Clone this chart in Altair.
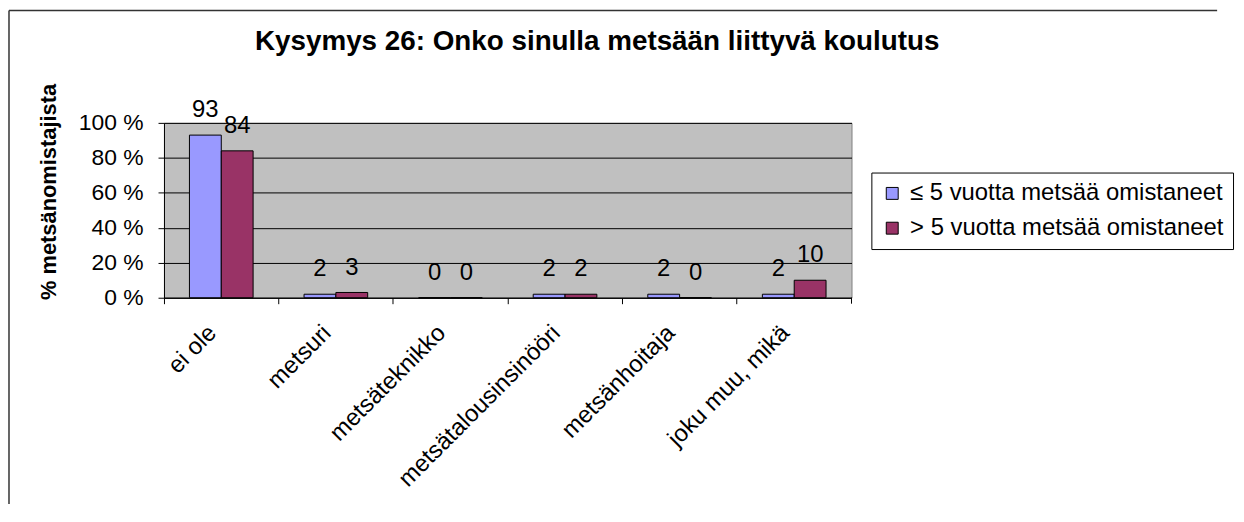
import altair as alt
import pandas as pd

categories = ["ei ole", "metsuri", "metsäteknikko", "metsätalousinsinööri",
              "metsänhoitaja", "joku muu, mikä"]
series_names = ["≤ 5 vuotta metsää omistaneet", "> 5 vuotta metsää omistaneet"]
values_le5 = [93, 2, 0, 2, 2, 2]
values_gt5 = [84, 3, 0, 2, 0, 10]
y_ticks = [0, 20, 40, 60, 80, 100]
colors = ["#9999FF", "#993366"]
title_text = "Kysymys 26: Onko sinulla metsään liittyvä koulutus"
y_title = "% metsänomistajista"

rows = []
for c, v in zip(categories, values_le5):
    rows.append({"cat": c, "series": series_names[0], "value": v})
for c, v in zip(categories, values_gt5):
    rows.append({"cat": c, "series": series_names[1], "value": v})
df = pd.DataFrame(rows)

FONT = "Liberation Sans"
W, H = 692, 176

x_enc = alt.X("cat:N", sort=categories, title=None,
              scale=alt.Scale(paddingInner=0, paddingOuter=0),
              axis=alt.Axis(bandPosition=0, labelAngle=-45, labelAlign="right",
                            labelBaseline="top", labelOffset=-17, labelPadding=17,
                            labelFontSize=24, labelFont=FONT, labelColor="black",
                            domainColor="black", tickColor="black", tickSize=6,
                            labelLimit=0, labelOverlap=False, grid=False))
xo_enc = alt.XOffset("series:N", sort=series_names,
                     scale=alt.Scale(paddingInner=0, paddingOuter=0.8))
y_enc = alt.Y("value:Q", scale=alt.Scale(domain=[0, 100]),
              axis=alt.Axis(values=y_ticks, labelExpr="datum.value + ' %'",
                            labelOverlap=False,
                            labelFontSize=23, labelFont=FONT, labelColor="black",
                            labelPadding=15, tickSize=6, tickColor="black",
                            domainColor="black", gridColor="black", grid=True,
                            title=y_title, titleFont=FONT, titleFontSize=22,
                            titleFontWeight="bold", titleColor="black",
                            titleAngle=270, titleX=-116, titleY=69,
                            titleAlign="center", titleBaseline="middle"))

base = alt.Chart(df).encode(x=x_enc, xOffset=xo_enc, y=y_enc)

bars = base.mark_bar(stroke="black", strokeWidth=1).encode(
    color=alt.Color("series:N", sort=series_names,
                    scale=alt.Scale(domain=series_names, range=colors),
                    legend=alt.Legend(title=None, orient="none", legendX=712, legendY=50,
                                      direction="vertical", strokeColor="black",
                                      fillColor="white", padding=9,
                                      labelFontSize=24, labelFont=FONT, labelColor="black",
                                      labelLimit=0, symbolType="square", symbolSize=144,
                                      symbolStrokeColor="black", symbolStrokeWidth=1,
                                      labelOffset=6, rowPadding=11)),
)

labels = base.mark_text(fontSize=24, font=FONT, color="black",
                        baseline="alphabetic", dy=-18).encode(
    text=alt.Text("value:Q"),
)

one = pd.DataFrame({"t": [title_text]})
title = alt.Chart(one).mark_text(fontSize=28, font=FONT, fontWeight="bold",
                                 color="black", baseline="middle", align="center").encode(
    text="t:N", x=alt.value(436), y=alt.value(-81))

end_tick = alt.Chart(one).mark_rule(color="black").encode(
    x=alt.value(W), y=alt.value(H), y2=alt.value(H + 6))

border_top = alt.Chart(one).mark_rule(color="#333333", strokeWidth=1.5).encode(
    x=alt.value(-156), x2=alt.value(1060), y=alt.value(-113))
border_left = alt.Chart(one).mark_rule(color="#333333", strokeWidth=1.5).encode(
    x=alt.value(-156), y=alt.value(-113), y2=alt.value(400))

chart = alt.layer(bars, labels, end_tick, title, border_top, border_left).properties(
    width=W, height=H,
    autosize=alt.AutoSizeParams(type="none"),
    padding={"left": 157, "top": 114, "right": 387, "bottom": 206},
    background="white",
).configure_view(fill="#C0C0C0", stroke="#808080", strokeWidth=1)

chart.save("out.html", embed_options={"renderer": "svg", "actions": False})
